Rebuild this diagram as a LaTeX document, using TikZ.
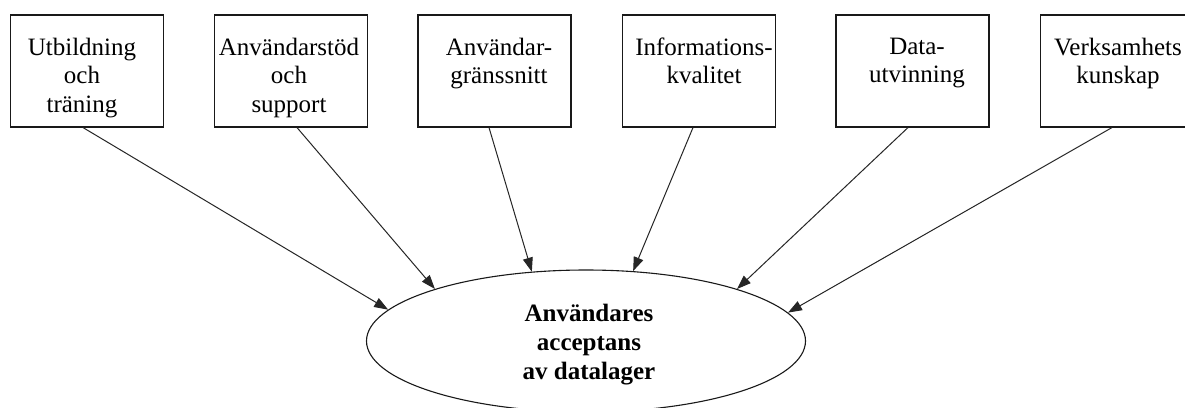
\documentclass[tikz,border=0pt]{standalone}
\usepackage{fontspec}
\setmainfont{Liberation Serif}
\usetikzlibrary{arrows.meta,shapes.geometric}
\tikzset{
  boxnode/.style={draw=black!90, line width=1.1pt, minimum width=153pt, minimum height=112pt, inner sep=0pt},
  boxtext/.style={anchor=north, inner sep=0pt, align=center, font=\fontsize{25}{28.5}\selectfont},
  conn/.style={draw=black!85, line width=1pt, -{Triangle[length=14pt,width=10pt]}},
  goal/.style={draw=black!90, line width=1.1pt, ellipse, minimum width=439pt, minimum height=142pt, inner sep=0pt}
}
\begin{document}
\begin{tikzpicture}[x=1pt,y=-1pt]
\useasboundingbox (0,0) rectangle (1185,407);
\fill[white] (0,0) rectangle (1185,407);
% boxes
\node[boxnode] (b1) at (87,71) {};
\node[boxnode] (b2) at (291,71) {};
\node[boxnode] (b3) at (494.5,71) {};
\node[boxnode] (b4) at (699,71) {};
\node[boxnode] (b5) at (912.5,71) {};
\node[boxnode] (b6) at (1117,71) {};
% box texts
\node[boxtext] (t1) at (82,37.5) {Utbildning\\och\\träning};
\node[boxtext] (t2) at (289,37.5) {Användarstöd\\och\\support};
\node[boxtext] (t3) at (499,37.5) {Användar-\\gränssnitt};
\node[boxtext] (t4) at (704,37.5) {Informations-\\kvalitet};
\node[boxtext] (t5) at (917,37.5) {Data-\\utvinning};
\node[boxtext] (t6) at (1118,37.5) {Verksamhets\\kunskap};
% ellipse
\node[goal] (e) at (586,341) {};
\node[inner sep=0pt, align=center, font=\fontsize{25}{29}\selectfont\bfseries] (et) at (589,345) {Användares\\acceptans\\av datalager};
% connectors
\draw[conn] ([xshift=-4pt]b1.south) -- (e.171.7);
\draw[conn] ([xshift=6pt]b2.south) -- (e.161.9);
\draw[conn] ([xshift=-5.5pt]b3.south) -- (e.128.5);
\draw[conn] ([xshift=-6pt]b4.south) -- (e.56);
\draw[conn] ([xshift=-4.5pt]b5.south) -- (e.19);
\draw[conn] ([xshift=-5pt]b6.south) -- (e.8.2);
\end{tikzpicture}
\end{document}
